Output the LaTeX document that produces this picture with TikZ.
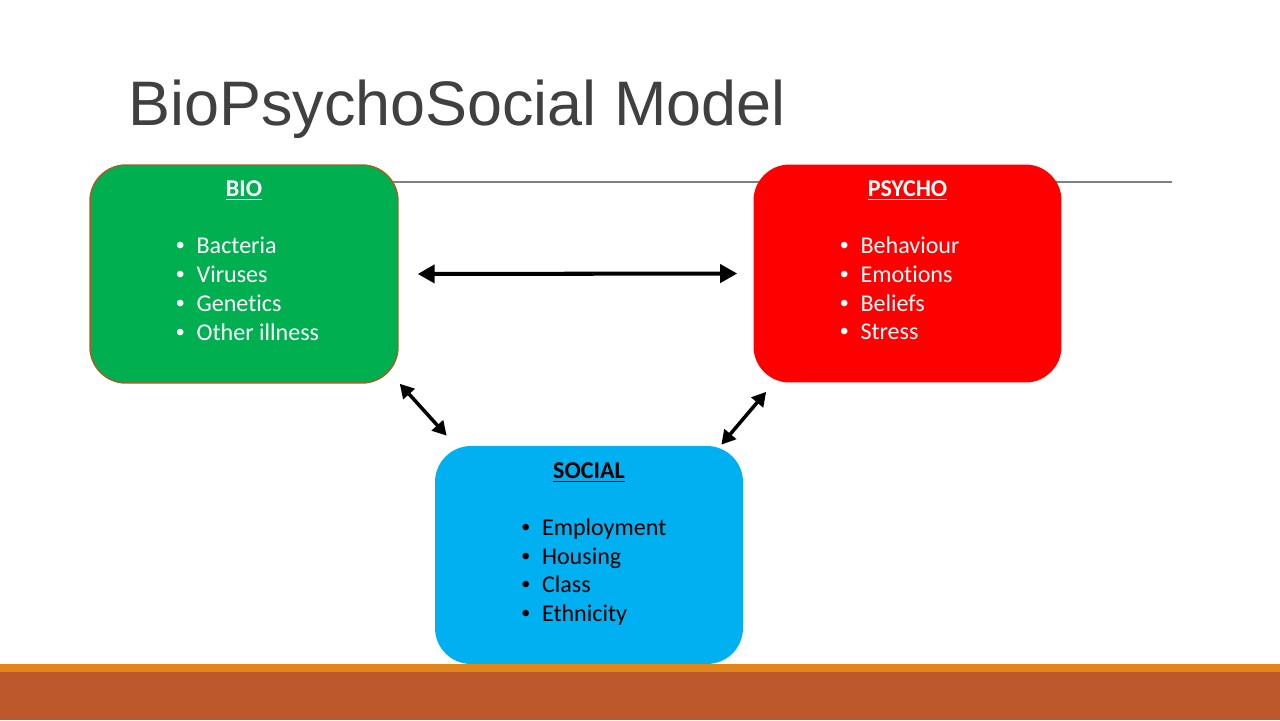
\documentclass[tikz,border=0pt]{standalone}
\usepackage{fontspec}
\setmainfont{Carlito}[Ligatures=NoCommon]
\newfontfamily\titlefont{Liberation Sans}
\usetikzlibrary{positioning,calc,arrows.meta}
\definecolor{biogreen}{HTML}{00B050}
\definecolor{psyred}{HTML}{FF0000}
\definecolor{socblue}{HTML}{00B0F0}
\definecolor{bioedge}{HTML}{9C6324}
\definecolor{titlegray}{HTML}{404040}
\definecolor{rulegray}{HTML}{808080}
\definecolor{barorange}{HTML}{E0861A}
\definecolor{barrust}{HTML}{BD582C}
\newcommand{\dotmark}{\makebox[0.44cm][l]{\hspace{0.03cm}{\titlefont\textbullet}}}
\begin{document}
\begin{tikzpicture}[x=0.02cm, y=-0.02cm,
  box/.style={rectangle, rounded corners=0.72cm, minimum width=6.16cm, minimum height=4.36cm, inner sep=0pt},
  head/.style={inner sep=0pt, font=\fontsize{13.7}{16.5}\selectfont\bfseries},
  item/.style={inner sep=0pt, anchor=base west, font=\fontsize{13.7}{16.5}\selectfont},
  link/.style={line width=2.3pt, {Triangle[length=0.34cm,width=0.36cm]}-{Triangle[length=0.34cm,width=0.36cm]}},
  slant/.style={line width=2pt, {Triangle[length=0.28cm,width=0.3cm]}-{Triangle[length=0.28cm,width=0.3cm]}}]
\fill[white] (0,0) rectangle (1280,720);
\useasboundingbox (0,0) rectangle (1280,720);

\node[anchor=base west, inner sep=0pt, text=titlegray, font=\titlefont\fontsize{35.8}{40}\selectfont] (title) at (128,125) {BioPsychoSocial Model};
\draw[rulegray, line width=0.6pt] (200,182) -- (1172,182);

\node[box, fill=biogreen, draw=bioedge, line width=0.85pt] (bio) at (244,274) {};
\node[box, fill=psyred] (psycho) at (907.5,273.5) {};
\node[box, fill=socblue] (social) at (589,555) {};

\node[head, text=white, below=0.33cm] (biohead) at (bio.north) {\underline{BIO}};
\node[head, text=white, below=0.33cm] (psychohead) at (psycho.north) {\underline{PSYCHO}};
\node[head, text=black, below=0.33cm] (socialhead) at (social.north) {\underline{SOCIAL}};

\foreach \txt [count=\i] in {Bacteria, Viruses, Genetics, Other illness}
  \node[item, text=white] (bio-\i) at ($(bio.north west)+(85,61+28.7*\i)$) {\dotmark\txt};
\foreach \txt [count=\i] in {Behaviour, Emotions, Beliefs, Stress}
  \node[item, text=white] (psycho-\i) at ($(psycho.north west)+(85,61+28.7*\i)$) {\dotmark\txt};
\foreach \txt [count=\i] in {Employment, Housing, Class, Ethnicity}
  \node[item, text=black] (social-\i) at ($(social.north west)+(85,61+28.7*\i)$) {\dotmark\txt};

\draw[link, shorten <=0.38cm, shorten >=0.32cm] (bio.east) -- (psycho.west);
\draw[slant] ($(bio.south east)+(1,0)$) -- ($(social.north west)+(12,-10)$);
\draw[slant] ($(psycho.south west)+(13,9)$) -- ($(social.north east)+(-22,-1)$);

\fill[barorange] (0,664) rectangle (1280,672);
\fill[barrust] (0,672) rectangle (1280,720);
\end{tikzpicture}
\end{document}
